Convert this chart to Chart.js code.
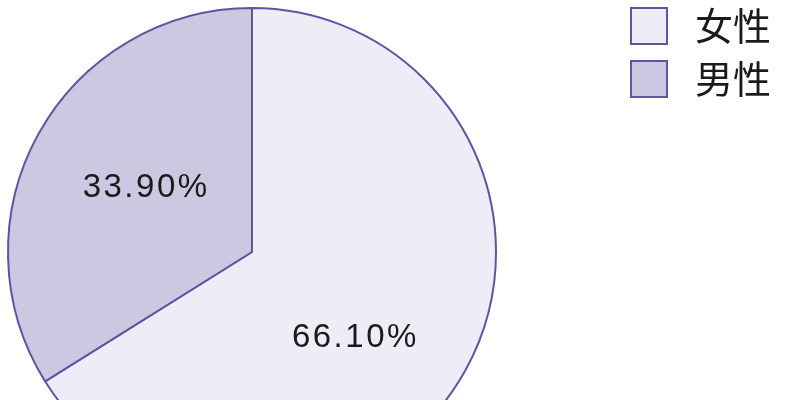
<!DOCTYPE html>
<html>
<head>
<meta charset="utf-8">
<script src="https://cdn.jsdelivr.net/npm/chart.js@4/dist/chart.umd.min.js"></script>
<style>
html,body{margin:0;padding:0;background:#fff;overflow:hidden;width:789px;height:400px;}
#wrap{position:absolute;left:-112px;top:0;width:901px;height:520px;}
</style>
</head>
<body>
<div id="wrap"><canvas id="c"></canvas></div>
<script>
const categories = ['女性', '男性'];
const shares = [66.10, 33.90];
const valueLabels = ['66.10%', '33.90%'];

const fillColors = ['#eeedf7', '#cdc8e2'];
const edgeColor = '#5d55a3';

const sliceLabels = {
  id: 'sliceLabels',
  afterDatasetsDraw(chart, args, opts) {
    const ctx = chart.ctx;
    const meta = chart.getDatasetMeta(0);
    ctx.save();
    ctx.font = opts.font;
    ctx.fillStyle = opts.color;
    ctx.textAlign = 'center';
    ctx.textBaseline = 'middle';
    if ('letterSpacing' in ctx) ctx.letterSpacing = opts.spacing + 'px';
    meta.data.forEach((arc, i) => {
      const p = arc.getProps(['x', 'y', 'startAngle', 'endAngle', 'outerRadius'], true);
      const mid = (p.startAngle + p.endAngle) / 2;
      const r = p.outerRadius * opts.radiusFrac;
      const off = opts.offsets[i] || [0, 0];
      const x = p.x + Math.cos(mid) * r + off[0] + opts.spacing / 2;
      const y = p.y + Math.sin(mid) * r + off[1];
      ctx.fillText(valueLabels[i], x, y);
    });
    ctx.restore();
  }
};

new Chart(document.getElementById('c'), {
  type: 'pie',
  data: {
    labels: categories,
    datasets: [{
      data: shares,
      backgroundColor: fillColors,
      borderColor: edgeColor,
      borderWidth: 2,
      radius: 244
    }]
  },
  options: {
    responsive: true,
    maintainAspectRatio: false,
    animation: false,
    events: [],
    layout: { padding: { top: -8, bottom: 16, left: 0, right: 18 } },
    plugins: {
      tooltip: { enabled: false },
      legend: {
        position: 'right',
        align: 'start',
        maxWidth: 155,
        labels: {
          boxWidth: 36,
          boxHeight: 36,
          padding: 15,
          textAlign: 'right',
          color: '#1a1a1a',
          font: { family: '"Noto Sans CJK SC", "Noto Sans CJK JP", sans-serif', size: 38 }
        }
      },
      sliceLabels: {
        font: '33px "Liberation Sans", Arial, sans-serif',
        color: '#1a1a1a',
        spacing: 2.5,
        radiusFrac: 0.53,
        offsets: [[-11, 23], [6, -1]]
      }
    }
  },
  plugins: [sliceLabels]
});
</script>
</body>
</html>
